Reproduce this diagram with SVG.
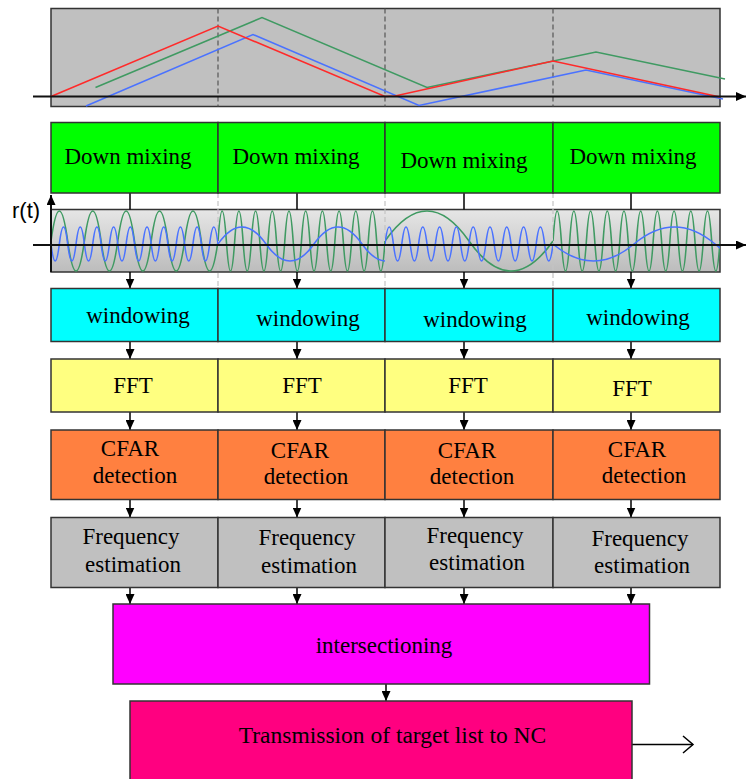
<svg xmlns="http://www.w3.org/2000/svg" width="749" height="779" viewBox="0 0 749 779">
<style>
.box{stroke:#333;stroke-width:1.5}
.lbl{font-family:"Liberation Serif","Times New Roman",serif;font-size:23px;fill:#000;text-anchor:middle}
.conn{stroke:#000;stroke-width:1.5;fill:none}
.axis{stroke:#111;stroke-width:2;fill:none}
.dash{stroke:#555;stroke-width:1.2;stroke-dasharray:5,3;fill:none}
.ldash{stroke:#c4c4c4;stroke-width:1.2;stroke-dasharray:5,3;fill:none}
.g{stroke:#3f9a62;stroke-width:1.6;fill:none}
.b{stroke:#4a72ff;stroke-width:1.6;fill:none}
.r{stroke:#ff2a2a;stroke-width:1.6;fill:none}
</style>
<defs>
<marker id="ah" markerUnits="userSpaceOnUse" markerWidth="10" markerHeight="9" refX="10" refY="4.5" orient="auto">
<path d="M0,0 L10,4.5 L0,9 z" fill="#000"/>
</marker>
<linearGradient id="sg" x1="0" y1="0" x2="0" y2="1">
<stop offset="0" stop-color="#e6e6e6"/>
<stop offset="1" stop-color="#bcbcbc"/>
</linearGradient>
<clipPath id="c1"><rect x="51" y="209.5" width="167" height="62.5"/></clipPath>
<clipPath id="c2"><rect x="218" y="209.5" width="167" height="62.5"/></clipPath>
<clipPath id="c3"><rect x="385" y="209.5" width="168" height="62.5"/></clipPath>
<clipPath id="c4"><rect x="553" y="209.5" width="167" height="62.5"/></clipPath>
</defs>
<rect width="749" height="779" fill="#fff"/>

<g id="chirp-chart">
<rect x="51" y="8.5" width="669" height="98" fill="#c0c0c0" stroke="#333" stroke-width="1.5"/>
<line class="dash" x1="218" y1="8.5" x2="218" y2="106.5"/>
<line class="dash" x1="385" y1="8.5" x2="385" y2="106.5"/>
<line class="dash" x1="553" y1="8.5" x2="553" y2="106.5"/>
<polyline class="g" points="95.5,87.5 262,17.5 427,87.5 596,52 725,79"/>
<polyline class="b" points="86,106 253,34.5 419,105.5 586,70 723,99"/>
<polyline class="r" points="51,96.5 218,26 385,96.5 395,96 553,61 720,97"/>
<line class="axis" x1="33" y1="96.5" x2="746" y2="96.5" marker-end="url(#ah)"/>
</g>

<g id="signal-chart">
<rect x="51" y="209.5" width="669" height="62.5" fill="url(#sg)" stroke="#333" stroke-width="1.5"/>
<line class="ldash" x1="218" y1="193" x2="218" y2="288"/>
<line class="ldash" x1="385" y1="193" x2="385" y2="288"/>
<line class="ldash" x1="553" y1="193" x2="553" y2="288"/>
<g clip-path="url(#c1)">
<path class="g" d="M51,241 q8.35,-60 16.7,0 t16.7,0 16.7,0 16.7,0 16.7,0 16.7,0 16.7,0 16.7,0 16.7,0 16.7,0"/>
<path class="b" d="M51,244 q4.175,34 8.35,0 t8.35,0 8.35,0 8.35,0 8.35,0 8.35,0 8.35,0 8.35,0 8.35,0 8.35,0 8.35,0 8.35,0 8.35,0 8.35,0 8.35,0 8.35,0 8.35,0 8.35,0 8.35,0 8.35,0"/>
</g>
<g clip-path="url(#c2)">
<path class="g" d="M218,241 q4.175,-60 8.35,0 t8.35,0 8.35,0 8.35,0 8.35,0 8.35,0 8.35,0 8.35,0 8.35,0 8.35,0 8.35,0 8.35,0 8.35,0 8.35,0 8.35,0 8.35,0 8.35,0 8.35,0 8.35,0 8.35,0"/>
<path class="b" d="M218,244 q24,-34 48,0 t48,0 48,0 48,0"/>
</g>
<g clip-path="url(#c3)">
<path class="g" d="M385,241 q42,-60 84,0 t84,0"/>
<path class="b" d="M385,244 q4.2,-34 8.4,0 t8.4,0 8.4,0 8.4,0 8.4,0 8.4,0 8.4,0 8.4,0 8.4,0 8.4,0 8.4,0 8.4,0 8.4,0 8.4,0 8.4,0 8.4,0 8.4,0 8.4,0 8.4,0 8.4,0"/>
</g>
<g clip-path="url(#c4)">
<path class="g" d="M553,241 q4.175,-60 8.35,0 t8.35,0 8.35,0 8.35,0 8.35,0 8.35,0 8.35,0 8.35,0 8.35,0 8.35,0 8.35,0 8.35,0 8.35,0 8.35,0 8.35,0 8.35,0 8.35,0 8.35,0 8.35,0 8.35,0"/>
<path class="b" d="M553,244 q40.5,34 81,0 t81,0 81,0"/>
</g>
<line class="axis" x1="33" y1="245" x2="746" y2="245" marker-end="url(#ah)"/>
<line class="axis" x1="51" y1="272" x2="51" y2="195" marker-end="url(#ah)"/>
<text x="12" y="218" style="font-family:'Liberation Sans',Arial,sans-serif;font-size:22px;fill:#000">r(t)</text>
</g>

<g id="connectors">
<line class="conn" x1="130" y1="193" x2="130" y2="209.5"/>
<line class="conn" x1="297" y1="193" x2="297" y2="209.5"/>
<line class="conn" x1="464" y1="193" x2="464" y2="209.5"/>
<line class="conn" x1="631" y1="193" x2="631" y2="209.5"/>
<line class="conn" x1="130" y1="272" x2="130" y2="288.5" marker-end="url(#ah)"/>
<line class="conn" x1="297" y1="272" x2="297" y2="288.5" marker-end="url(#ah)"/>
<line class="conn" x1="464" y1="272" x2="464" y2="288.5" marker-end="url(#ah)"/>
<line class="conn" x1="631" y1="272" x2="631" y2="288.5" marker-end="url(#ah)"/>
<line class="conn" x1="130" y1="341.5" x2="130" y2="359" marker-end="url(#ah)"/>
<line class="conn" x1="297" y1="341.5" x2="297" y2="359" marker-end="url(#ah)"/>
<line class="conn" x1="464" y1="341.5" x2="464" y2="359" marker-end="url(#ah)"/>
<line class="conn" x1="631" y1="341.5" x2="631" y2="359" marker-end="url(#ah)"/>
<line class="conn" x1="130" y1="412" x2="130" y2="430" marker-end="url(#ah)"/>
<line class="conn" x1="297" y1="412" x2="297" y2="430" marker-end="url(#ah)"/>
<line class="conn" x1="464" y1="412" x2="464" y2="430" marker-end="url(#ah)"/>
<line class="conn" x1="631" y1="412" x2="631" y2="430" marker-end="url(#ah)"/>
<line class="conn" x1="130" y1="499.5" x2="130" y2="517.5" marker-end="url(#ah)"/>
<line class="conn" x1="297" y1="499.5" x2="297" y2="517.5" marker-end="url(#ah)"/>
<line class="conn" x1="464" y1="499.5" x2="464" y2="517.5" marker-end="url(#ah)"/>
<line class="conn" x1="631" y1="499.5" x2="631" y2="517.5" marker-end="url(#ah)"/>
<line class="conn" x1="130" y1="587.5" x2="130" y2="604" marker-end="url(#ah)"/>
<line class="conn" x1="297" y1="587.5" x2="297" y2="604" marker-end="url(#ah)"/>
<line class="conn" x1="464" y1="587.5" x2="464" y2="604" marker-end="url(#ah)"/>
<line class="conn" x1="631" y1="587.5" x2="631" y2="604" marker-end="url(#ah)"/>
<line class="conn" x1="386" y1="684" x2="386" y2="701" marker-end="url(#ah)"/>
<line class="conn" x1="632" y1="744.5" x2="693" y2="744.5"/>
<polyline class="conn" points="683,736 693,744.5 683,753"/>
</g>

<g id="dm1"><rect class="box" x="51" y="122.5" width="167" height="70.5" fill="#00ff00"/><text class="lbl" x="128" y="164">Down mixing</text></g>
<g id="dm2"><rect class="box" x="218" y="122.5" width="167" height="70.5" fill="#00ff00"/><text class="lbl" x="296" y="164">Down mixing</text></g>
<g id="dm3"><rect class="box" x="385" y="122.5" width="168" height="70.5" fill="#00ff00"/><text class="lbl" x="464" y="168">Down mixing</text></g>
<g id="dm4"><rect class="box" x="553" y="122.5" width="167" height="70.5" fill="#00ff00"/><text class="lbl" x="633" y="164">Down mixing</text></g>

<g id="win1"><rect class="box" x="51" y="288.5" width="167" height="53" fill="#00ffff"/><text class="lbl" x="138" y="323">windowing</text></g>
<g id="win2"><rect class="box" x="218" y="288.5" width="167" height="53" fill="#00ffff"/><text class="lbl" x="308" y="326">windowing</text></g>
<g id="win3"><rect class="box" x="385" y="288.5" width="168" height="53" fill="#00ffff"/><text class="lbl" x="475" y="327">windowing</text></g>
<g id="win4"><rect class="box" x="553" y="288.5" width="167" height="53" fill="#00ffff"/><text class="lbl" x="638" y="325">windowing</text></g>

<g id="fft1"><rect class="box" x="51" y="359" width="167" height="53" fill="#ffff80"/><text class="lbl" x="133" y="393">FFT</text></g>
<g id="fft2"><rect class="box" x="218" y="359" width="167" height="53" fill="#ffff80"/><text class="lbl" x="302" y="393">FFT</text></g>
<g id="fft3"><rect class="box" x="385" y="359" width="168" height="53" fill="#ffff80"/><text class="lbl" x="468" y="393">FFT</text></g>
<g id="fft4"><rect class="box" x="553" y="359" width="167" height="53" fill="#ffff80"/><text class="lbl" x="632" y="396">FFT</text></g>

<g id="cfar1"><rect class="box" x="51" y="430" width="167" height="69.5" fill="#ff8040"/><text class="lbl" x="130" y="456">CFAR</text><text class="lbl" x="135" y="483">detection</text></g>
<g id="cfar2"><rect class="box" x="218" y="430" width="167" height="69.5" fill="#ff8040"/><text class="lbl" x="300" y="458">CFAR</text><text class="lbl" x="306" y="484">detection</text></g>
<g id="cfar3"><rect class="box" x="385" y="430" width="168" height="69.5" fill="#ff8040"/><text class="lbl" x="467" y="458">CFAR</text><text class="lbl" x="472" y="484">detection</text></g>
<g id="cfar4"><rect class="box" x="553" y="430" width="167" height="69.5" fill="#ff8040"/><text class="lbl" x="637" y="457">CFAR</text><text class="lbl" x="644" y="483">detection</text></g>

<g id="freq1"><rect class="box" x="51" y="517.5" width="167" height="70" fill="#c0c0c0"/><text class="lbl" x="131" y="544">Frequency</text><text class="lbl" x="133" y="572">estimation</text></g>
<g id="freq2"><rect class="box" x="218" y="517.5" width="167" height="70" fill="#c0c0c0"/><text class="lbl" x="307" y="545">Frequency</text><text class="lbl" x="309" y="573">estimation</text></g>
<g id="freq3"><rect class="box" x="385" y="517.5" width="168" height="70" fill="#c0c0c0"/><text class="lbl" x="475" y="543">Frequency</text><text class="lbl" x="477" y="570">estimation</text></g>
<g id="freq4"><rect class="box" x="553" y="517.5" width="167" height="70" fill="#c0c0c0"/><text class="lbl" x="640" y="546">Frequency</text><text class="lbl" x="642" y="573">estimation</text></g>

<g id="intersectioning"><rect class="box" x="113" y="604" width="536.5" height="80" fill="#ff00ff"/><text class="lbl" x="384" y="653">intersectioning</text></g>

<g id="transmission"><rect class="box" x="130" y="701" width="502" height="95" fill="#ff0080"/><text class="lbl" x="392.5" y="743" style="font-size:23.5px">Transmission of target list to NC</text></g>
</svg>
